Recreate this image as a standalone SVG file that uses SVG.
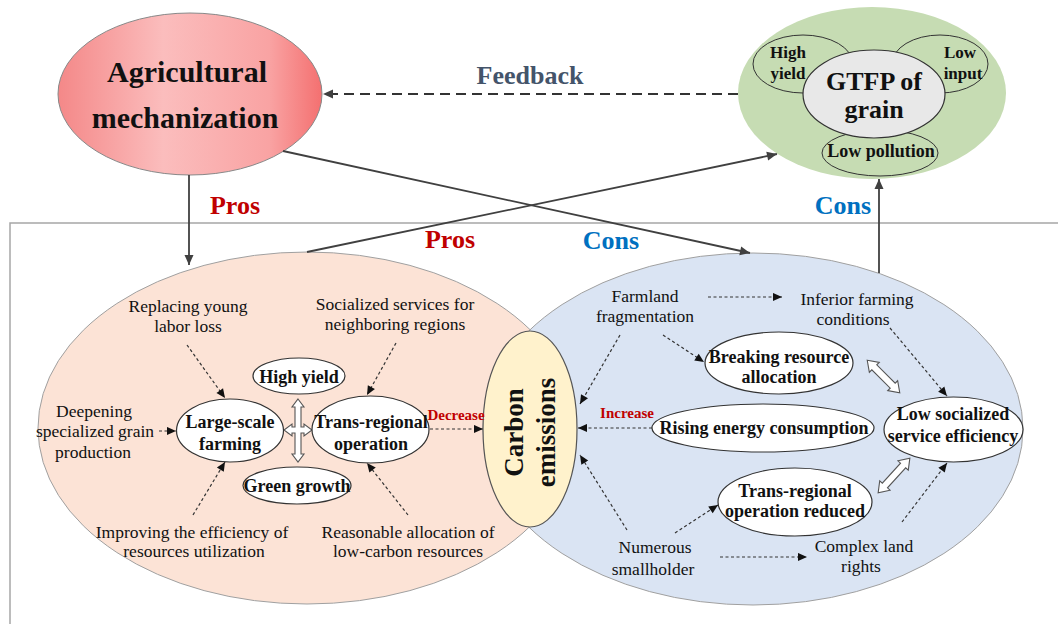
<svg xmlns="http://www.w3.org/2000/svg" width="1058" height="624" viewBox="0 0 1058 624" font-family="'Liberation Serif', 'DejaVu Serif', serif">
<style>
text{font-family:'Liberation Serif','DejaVu Serif',serif;fill:#111;text-anchor:middle}
.b{font-weight:bold}
.t{font-size:17.5px}
.n{font-size:18px;font-weight:bold}
.node{fill:#fff;stroke:#333;stroke-width:1.2}
.dot{fill:none;stroke:#333;stroke-width:1.2;stroke-dasharray:3 2.5;marker-end:url(#ah)}
.sol{fill:none;stroke:#404040;stroke-width:1.8;marker-end:url(#ahs)}
.dbl{fill:#fff;stroke:#555;stroke-width:1.1}
.pros{fill:#c00000;font-weight:bold;font-size:26px}
.cons{fill:#0070c0;font-weight:bold;font-size:26px}
</style>
<defs>
<marker id="ah" viewBox="0 0 10 10" refX="10" refY="5" markerWidth="10" markerHeight="9" markerUnits="userSpaceOnUse" orient="auto"><path d="M0,0.5 L10,5 L0,9.5 z" fill="#111"/></marker>
<marker id="ahs" viewBox="0 0 10 10" refX="10" refY="5" markerWidth="12" markerHeight="10" markerUnits="userSpaceOnUse" orient="auto"><path d="M0,0.5 L10,5 L0,9.5 z" fill="#404040"/></marker>
<linearGradient id="red" x1="0" y1="0" x2="1" y2="0">
<stop offset="0" stop-color="#f48888"/><stop offset="0.4" stop-color="#fbbdbd"/><stop offset="0.8" stop-color="#f9a3a3"/><stop offset="1" stop-color="#f47070"/>
</linearGradient>
</defs>
<rect width="1058" height="624" fill="#fff"/>
<path d="M10,624 L10,223 L1058,223" fill="none" stroke="#a6a6a6" stroke-width="1.5"/>

<g id="pros-region"><ellipse cx="307" cy="428" rx="269" ry="176" fill="#fce3d6" stroke="#a0a0a0" stroke-width="1"/></g>
<g id="cons-region"><ellipse cx="753" cy="429" rx="270" ry="176" fill="#dae4f3" stroke="#a0a0a0" stroke-width="1"/></g>
<g id="carbon"><ellipse cx="530" cy="429" rx="47" ry="98" fill="#fff2cc" stroke="#555" stroke-width="1.2"/>
<text class="b" font-size="27" transform="translate(523,432.5) rotate(-90)">Carbon</text>
<text class="b" font-size="27" transform="translate(555,432.5) rotate(-90)">emissions</text></g>

<g id="mechanization"><ellipse cx="190" cy="94" rx="132" ry="81" fill="url(#red)" stroke="#888" stroke-width="1"/>
<text class="b" font-size="30" x="187" y="82">Agricultural</text>
<text class="b" font-size="30" x="185" y="128">mechanization</text></g>

<g id="gtfp"><ellipse cx="872" cy="93" rx="134" ry="86" fill="#c6dcb3"/>
<ellipse cx="803" cy="64" rx="50" ry="29" fill="none" stroke="#333" stroke-width="1"/>
<ellipse cx="940" cy="64" rx="48" ry="29" fill="none" stroke="#333" stroke-width="1"/>
<ellipse cx="880" cy="153" rx="58" ry="23" fill="none" stroke="#333" stroke-width="1"/>
<ellipse cx="874" cy="94" rx="71" ry="44" fill="#e8e8e8" stroke="#333" stroke-width="1.2"/>
<text class="b" font-size="26" x="874" y="90">GTFP of</text>
<text class="b" font-size="26" x="874" y="118">grain</text>
<text class="b" font-size="17" x="788" y="58">High</text>
<text class="b" font-size="17" x="788" y="79">yield</text>
<text class="b" font-size="17" x="960" y="58">Low</text>
<text class="b" font-size="17" x="963" y="79">input</text>
<text class="b" font-size="18" x="881" y="157">Low pollution</text></g>

<g id="connectors">
<line x1="738" y1="94" x2="323" y2="94" stroke="#333" stroke-width="2" stroke-dasharray="10 6" marker-end="url(#ahs)"/>
<line class="sol" x1="189" y1="175" x2="189" y2="265"/>
<line class="sol" x1="283" y1="151" x2="750" y2="253"/>
<line class="sol" x1="307" y1="252" x2="777" y2="154"/>
<line class="sol" x1="879" y1="273" x2="879" y2="179"/>
<line class="dot" x1="187" y1="345" x2="225" y2="398"/>
<line class="dot" x1="396" y1="343" x2="367" y2="395"/>
<line class="dot" x1="193" y1="515" x2="225" y2="462"/>
<line class="dot" x1="408" y1="515" x2="367" y2="463"/>
<line class="dot" x1="159" y1="431" x2="176" y2="431"/>
<line class="dot" x1="430" y1="429" x2="483" y2="429"/>
<line class="dot" x1="708" y1="297" x2="782" y2="297"/>
<line class="dot" x1="663" y1="335" x2="704" y2="362"/>
<line class="dot" x1="620" y1="335" x2="580" y2="404"/>
<line class="dot" x1="890" y1="328" x2="947" y2="396"/>
<line class="dot" x1="652" y1="428" x2="578" y2="428"/>
<line class="dot" x1="627" y1="530" x2="580" y2="455"/>
<line class="dot" x1="675" y1="533" x2="718" y2="505"/>
<line class="dot" x1="720" y1="557" x2="807" y2="557"/>
<line class="dot" x1="902" y1="522" x2="947" y2="463"/>
<polygon class="dbl" transform="translate(883.5,376.5) rotate(45)" points="-23,0 -13,-7 -13,-3.5 13,-3.5 13,-7 23,0 13,7 13,3.5 -13,3.5 -13,7"/>
<polygon class="dbl" transform="translate(894,475.5) rotate(-47.6)" points="-23.5,0 -13.5,-7 -13.5,-3.5 13.5,-3.5 13.5,-7 23.5,0 13.5,7 13.5,3.5 -13.5,3.5 -13.5,7"/>
<polygon class="dbl" points="298,399 304,407 301,407 301,427 304,427 304,424 312,430 304,436 304,433 301,433 301,454 304,454 298,462 292,454 295,454 295,433 292,433 292,436 284,430 292,424 292,427 295,427 295,407 292,407"/>
</g>

<g id="labels">
<text x="530" y="84" font-size="26" class="b" style="fill:#44546a">Feedback</text>
<text class="pros" x="235" y="214">Pros</text>
<text class="cons" x="843" y="214">Cons</text>
<text class="pros" x="450" y="248">Pros</text>
<text class="cons" x="611" y="249">Cons</text>
<text class="b" font-size="15" x="456" y="420" style="fill:#c00000">Decrease</text>
<text class="b" font-size="15" x="627" y="418" style="fill:#c00000">Increase</text>
</g>

<g id="replacing"><text class="t" x="188" y="312">Replacing young</text><text class="t" x="188" y="332">labor loss</text></g>
<g id="socialized"><text class="t" x="395" y="310">Socialized services for</text><text class="t" x="395" y="330">neighboring regions</text></g>
<g id="deepening"><text class="t" x="94" y="417">Deepening</text><text class="t" x="95" y="437">specialized grain</text><text class="t" x="93" y="458">production</text></g>
<g id="improving"><text class="t" x="192" y="538">Improving the efficiency of</text><text class="t" x="194" y="557">resources utilization</text></g>
<g id="reasonable"><text class="t" x="408" y="538">Reasonable allocation of</text><text class="t" x="408" y="557">low-carbon resources</text></g>
<g id="high-yield"><ellipse class="node" cx="299" cy="376" rx="46" ry="18"/><text class="n" x="299" y="383">High yield</text></g>
<g id="large-scale"><ellipse class="node" cx="230" cy="430.5" rx="53.5" ry="31.5"/><text class="n" x="230" y="428">Large-scale</text><text class="n" x="230" y="450">farming</text></g>
<g id="trans-regional"><ellipse class="node" cx="370.5" cy="429.5" rx="58.5" ry="33.5"/><text class="n" x="371" y="428">Trans-regional</text><text class="n" x="371" y="450">operation</text></g>
<g id="green-growth"><ellipse class="node" cx="297" cy="485.5" rx="54" ry="18.5"/><text class="n" x="297" y="492">Green growth</text></g>

<g id="farmland"><text class="t" x="645" y="302">Farmland</text><text class="t" x="645" y="322">fragmentation</text></g>
<g id="inferior"><text class="t" x="857" y="305">Inferior farming</text><text class="t" x="853" y="325">conditions</text></g>
<g id="numerous"><text class="t" x="655" y="553">Numerous</text><text class="t" x="653" y="575">smallholder</text></g>
<g id="complex"><text class="t" x="864" y="552">Complex land</text><text class="t" x="861" y="572">rights</text></g>
<g id="breaking"><ellipse class="node" cx="779" cy="363" rx="74" ry="31"/><text class="n" x="779" y="363">Breaking resource</text><text class="n" x="779" y="383">allocation</text></g>
<g id="rising"><ellipse class="node" cx="763" cy="428" rx="111" ry="24"/><text class="n" x="764" y="434">Rising energy consumption</text></g>
<g id="low-socialized"><ellipse class="node" cx="953.5" cy="429.5" rx="69.5" ry="32.5"/><text class="n" x="953" y="420">Low socialized</text><text class="n" x="953" y="442">service efficiency</text></g>
<g id="trans-reduced"><ellipse class="node" cx="795" cy="502" rx="77" ry="34"/><text class="n" x="795" y="497">Trans-regional</text><text class="n" x="795" y="517">operation reduced</text></g>
</svg>
